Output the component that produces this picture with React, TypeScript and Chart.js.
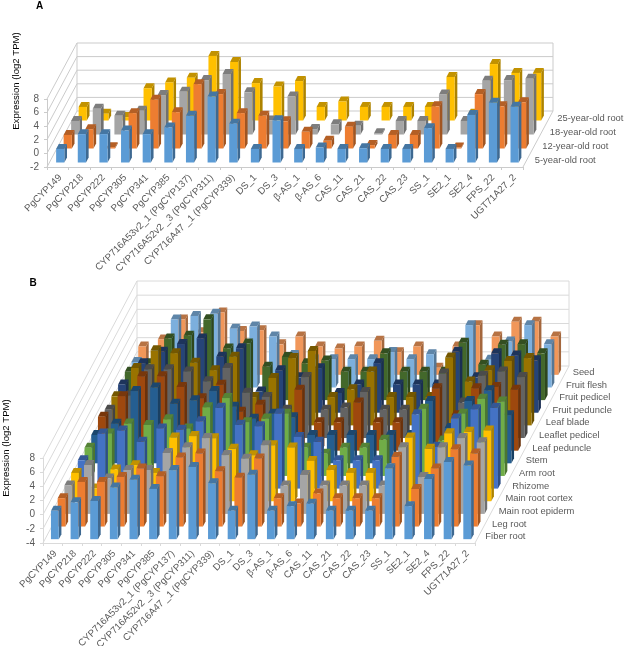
import React, { useEffect, useRef } from "react";
import { Chart, registerables } from "chart.js";

Chart.register(...registerables);

const FONT = '"Liberation Sans", Arial, sans-serif';
const TEXT = "#595959";

const genes = [
  "PgCYP149", "PgCYP218", "PgCYP222", "PgCYP305", "PgCYP341", "PgCYP385",
  "CYP716A53v2_1 (PgCYP137)", "CYP716A52v2 _3 (PgCYP311)", "CYP716A47 _1 (PgCYP339)",
  "DS_1", "DS_3", "β-AS_1", "β-AS_6", "CAS_11", "CAS_21", "CAS_22", "CAS_23",
  "SS_1", "SE2_1", "SE2_4", "FPS_22", "UGT71A27_2",
];

// Panel A
const agesA = ["5-year-old root", "12-year-old root", "18-year-old root", "25-year-old root"];
const year5 = [0, 2.17, 2.17, 2.7, 2.17, 3.15, 4.86, 7.7, 3.7, 0, 4.2, 0, 0.2, 0, 0.1, 0, 0, 3.05, 0, 5, 6.8, 6.2];
const year12 = [0, 0.84, -1.8, 3.2, 5.16, 3.34, 7.46, 6, 3.2, 2.8, 2, 0.45, -0.87, 1.2, -1.5, 0, 0, 4.2, -1.85, 6, 4.2, 4.8];
const year18 = [0, 1.77, 0.75, 1.5, 3.8, 4.3, 6, 6.9, 4.2, 0.06, 3.6, -1.2, -0.5, -0.7, -1.8, 0, 0, 3.9, 0, 5.9, 6, 6.2];
const year25 = [0, -1, -1.5, 2.75, 3.6, 4.3, 7.5, 6.6, 3.5, 3, 3.8, 0, 0.8, 0, 0, 0, 0, 4.4, -1, 6.3, 5, 5];
const colorsA = ["#5B9BD5", "#ED7D31", "#A5A5A5", "#FFC000"];

// Panel B
const tissuesB = [
  "Fiber root", "Leg root", "Main root epiderm", "Main root cortex", "Rhizome", "Arm root", "Stem",
  "Leaf peduncle", "Leaflet pedicel", "Leaf blade", "Fruit peduncle", "Fruit pedicel", "Fruit flesh", "Seed",
];
const fiberRoot = [0, 1.2, 1.4, 3.3, 4.4, 3.1, 5.75, 6.2, 3.9, 0, 5.1, 0, 0.66, 1, 0, 0, 0, 6, 0.66, 4.5, 6.9, 6.4];
const legRoot = [0, 2.3, 2.3, 3, 4.2, 3.1, 5.75, 6.3, 3.8, 2.9, 5.6, 0, -0.75, 0.66, 0, 0, 0, 5.84, 1.3, 4.2, 6.9, 6.3];
const epiderm = [0, 2.9, 1, 2.2, 2.2, 4.6, 5.4, 6.7, 4.3, 3.8, 5.7, 0, 1.5, 0, 0, 0, 0, 5.4, 1.2, 5.4, 6.7, 6.1];
const cortex = [0, -2.2, 0.5, 1.1, 0, 5, 5.2, 4.9, 3.4, 2.5, 3.9, 3.6, 1.7, 0.4, 0, 0, 0, 5, 3.4, 5.6, 5.8, 6];
const rhizome = [0, 3.77, 4.2, 2.6, 4.5, 4.3, 5.5, 7.4, 5, 4.8, 6.6, 3.3, 2.6, 0, 0, 0, 0, 6.5, 1.9, 5.9, 7.2, 7.4];
const armRoot = [0, 2, 3.4, 3.2, 4, 2.7, 5.7, 7, 3.6, 4.1, 4.8, 0, -0.85, 0, 0, 1.1, 0, 5.5, 1, 4.8, 6.9, 6.5];
const stem = [0, 1.6, 6.2, 6.7, 4.4, 4.9, 6.2, 4, 2.3, 3, 2.5, 0, 0, 0, 0, 0, 0, 4.8, 1, 4.8, 6.3, 2.8];
const leafPeduncle = [0.8, 3.7, 6.5, 6.5, 5, 3.4, 5.3, 1.5, 2.5, 1, 4.6, 0, 0, 2.8, 0, 0, 0, 4.8, 1, 4.8, 5, 4.6];
const leafletPedicel = [0, 2, 5.7, 5.7, 5.4, 4, 5.9, 2.4, 1.8, 0, 4.6, 0, 0.3, 2.5, 0, 0, 0, 5.1, 1, 4.8, 5.4, 4.6];
const leafBlade = [0.1, 4.1, 6.6, 6.2, 4.85, 3.8, 5.7, 0, 2.7, 5.5, 6.5, 0, 1.1, 3.6, 0, 0, 0, 5.6, 2.2, 3.8, 5.1, 5.5];
const fruitPeduncle = [0, 3, 4.6, 5.7, 6.5, 3.9, 5.1, -1, 2, 1, 2.3, -1.2, 0, 3, 0, 0, 0, 4.6, 1, 4.4, 4.1, 3.4];
const fruitPedicel = [0, 1.2, 4.7, 5.1, 7.4, 3.3, 4, 0.7, 2.1, 1.2, 1.6, 0, 0, 2.6, 0, 0, 0, 4.1, 1, 3.8, 3.9, 2.6];
const fruitFlesh = [-0.4, 1, 5.6, 6.1, 6.4, 4.3, 4.6, 3.2, 0.6, 0, 0, 0, 0, 1, 0, 0.7, 0, 4.8, -0.1, 2.5, 4.8, 2.1];
const seed = [0, 1, 3.8, 2, 4.8, 2.2, 2.3, 0.3, 1.4, 0, -0.3, 0, 0.8, -0.8, 0, -3, 0, 3, 1.4, 3.5, 3.5, 1.4];
const colorsB = [
  "#5B9BD5", "#ED7D31", "#A5A5A5", "#FFC000", "#4472C4", "#70AD47", "#255E91",
  "#9E480E", "#636363", "#997300", "#264478", "#43682B", "#7CAFDD", "#F1975A",
];

function shade(hex: string, k: number) {
  const n = parseInt(hex.slice(1), 16);
  const c = [(n >> 16) & 255, (n >> 8) & 255, n & 255].map((v) => Math.round(v * k));
  return `rgb(${c[0]},${c[1]},${c[2]})`;
}

type Panel = {
  letter: string;
  letterPos: [number, number];
  titlePos: [number, number];
  height: number;
  area: { left: number; right: number; top: number; bottom: number };
  depthX: number;
  depthY: number;
  barW: number;
  capH: number;
  yMin: number;
  yMax: number;
  wall: string;
  labelGap: number;
  names: string[];
  series: number[][];
  colors: string[];
};

function poly(ctx: CanvasRenderingContext2D, pts: number[][], fill: string) {
  ctx.beginPath();
  pts.forEach((p, i) => (i ? ctx.lineTo(p[0], p[1]) : ctx.moveTo(p[0], p[1])));
  ctx.closePath();
  ctx.fillStyle = fill;
  ctx.fill();
}

function threeD(p: Panel) {
  const slope = p.depthX / p.depthY;
  const band = p.depthY / p.series.length;
  return {
    id: "threeD" + p.letter,
    beforeDatasetsDraw(chart: any) {
      const { ctx, chartArea: a, scales } = chart;
      const { x, y } = scales;
      ctx.save();
      // walls and floor edges
      ctx.strokeStyle = p.wall;
      ctx.lineWidth = 1;
      y.ticks.forEach((t: any) => {
        const py = y.getPixelForValue(t.value);
        ctx.beginPath();
        ctx.moveTo(a.left, py);
        ctx.lineTo(a.left + p.depthX, py - p.depthY);
        ctx.lineTo(a.right + p.depthX, py - p.depthY);
        ctx.stroke();
      });
      ctx.beginPath();
      ctx.moveTo(a.right + p.depthX, y.getPixelForValue(p.yMax) - p.depthY);
      ctx.lineTo(a.right + p.depthX, a.bottom - p.depthY);
      ctx.lineTo(a.right, a.bottom);
      ctx.stroke();
      ctx.beginPath();
      ctx.moveTo(a.left + p.depthX, y.getPixelForValue(p.yMax) - p.depthY);
      ctx.lineTo(a.left + p.depthX, a.bottom - p.depthY);
      ctx.stroke();
      // bars, back row first
      const capX = p.capH * slope;
      const gap = (band - p.capH) / 2;
      for (let s = p.series.length - 1; s >= 0; s--) {
        const d = s * band + gap;
        const color = p.colors[s];
        p.series[s].forEach((v, i) => {
          const cx = x.getPixelForValue(i) + d * slope;
          const x0 = cx - p.barW / 2;
          const x1 = cx + p.barW / 2;
          const bot = y.getPixelForValue(p.yMin) - d;
          const top = y.getPixelForValue(v) - d;
          poly(ctx, [[x1, top], [x1 + capX, top - p.capH], [x1 + capX, bot - p.capH], [x1, bot]], shade(color, 0.68));
          poly(ctx, [[x0, top], [x0 + capX, top - p.capH], [x1 + capX, top - p.capH], [x1, top]], shade(color, 0.76));
          poly(ctx, [[x0, top], [x1, top], [x1, bot], [x0, bot]], color);
        });
      }
      ctx.restore();
      return false;
    },
    afterDraw(chart: any) {
      const { ctx, chartArea: a } = chart;
      ctx.save();
      // depth axis labels
      ctx.font = `9.4px ${FONT}`;
      ctx.fillStyle = TEXT;
      ctx.textAlign = "left";
      ctx.textBaseline = "middle";
      p.names.forEach((n, s) => {
        const d = (s + 0.5) * band;
        ctx.fillText(n, a.right + d * slope + p.labelGap, a.bottom - d);
      });
      // value axis title
      ctx.font = `9.6px ${FONT}`;
      ctx.fillStyle = "#000000";
      ctx.textAlign = "center";
      ctx.save();
      ctx.translate(p.titlePos[0], p.titlePos[1]);
      ctx.rotate(-Math.PI / 2);
      ctx.fillText("Expression (log2 TPM)", 0, 0);
      ctx.restore();
      // panel letter
      ctx.font = `bold 10px ${FONT}`;
      ctx.fillText(p.letter, p.letterPos[0], p.letterPos[1]);
      ctx.restore();
    },
  };
}

function makeChart(canvas: HTMLCanvasElement, p: Panel) {
  const yAxisW = 36;
  const tick = { color: TEXT, font: { family: FONT, size: 10 } };
  return new Chart(canvas, {
    type: "bar",
    data: {
      labels: genes,
      datasets: p.series.map((data, s) => ({ label: p.names[s], data, backgroundColor: p.colors[s] })),
    },
    plugins: [threeD(p)],
    options: {
      responsive: false,
      animation: false,
      layout: {
        autoPadding: false,
        padding: { left: p.area.left - yAxisW, top: p.area.top, right: 625 - p.area.right, bottom: 0 },
      },
      plugins: { legend: { display: false }, tooltip: { enabled: false }, title: { display: false } },
      scales: {
        x: {
          grid: { drawOnChartArea: false, drawTicks: true, tickLength: 3, color: p.wall, offset: true },
          border: { color: p.wall },
          ticks: {
            color: TEXT,
            font: { family: FONT, size: 9.7 },
            autoSkip: false,
            minRotation: 45,
            maxRotation: 45,
            padding: 2,
            labelOffset: 2.5,
          },
          afterFit: (s: any) => {
            s.height = p.height - p.area.bottom;
          },
        },
        y: {
          min: p.yMin,
          max: p.yMax,
          grid: { drawOnChartArea: false, drawTicks: true, tickLength: 3, color: p.wall },
          border: { color: p.wall },
          ticks: { ...tick, stepSize: 2, padding: 5, autoSkip: false },
          afterFit: (s: any) => {
            s.width = yAxisW;
          },
        },
      },
    } as any,
  });
}

const panelA: Panel = {
  letter: "A",
  letterPos: [39.5, 6],
  titlePos: [16, 81],
  height: 282,
  area: { left: 47, right: 523, top: 99, bottom: 167 },
  depthX: 30,
  depthY: 56,
  barW: 8.2,
  capH: 5,
  yMin: -2,
  yMax: 8,
  wall: "#CBCBCB",
  labelGap: 8,
  names: agesA,
  series: [year5, year12, year18, year25],
  colors: colorsA,
};

const TOP_B = 270;
const panelB: Panel = {
  letter: "B",
  letterPos: [33, 283 - TOP_B],
  titlePos: [6.5, 448 - TOP_B],
  height: 376,
  area: { left: 43, right: 475, top: 458 - TOP_B, bottom: 543 - TOP_B },
  depthX: 94,
  depthY: 177,
  barW: 7.8,
  capH: 5,
  yMin: -4,
  yMax: 8,
  wall: "#DADADA",
  labelGap: 7,
  names: tissuesB,
  series: [
    fiberRoot, legRoot, epiderm, cortex, rhizome, armRoot, stem,
    leafPeduncle, leafletPedicel, leafBlade, fruitPeduncle, fruitPedicel, fruitFlesh, seed,
  ],
  colors: colorsB,
};

export default function App() {
  const refA = useRef<HTMLCanvasElement>(null);
  const refB = useRef<HTMLCanvasElement>(null);
  useEffect(() => {
    document.body.style.margin = "0";
    const a = makeChart(refA.current as HTMLCanvasElement, panelA);
    const b = makeChart(refB.current as HTMLCanvasElement, panelB);
    return () => {
      a.destroy();
      b.destroy();
    };
  }, []);
  return (
    <div style={{ position: "relative", width: 625, height: 646, background: "#fff", overflow: "hidden" }}>
      <canvas ref={refA} width={625} height={panelA.height} style={{ position: "absolute", left: 0, top: 0 }} />
      <canvas ref={refB} width={625} height={panelB.height} style={{ position: "absolute", left: 0, top: TOP_B }} />
    </div>
  );
}
